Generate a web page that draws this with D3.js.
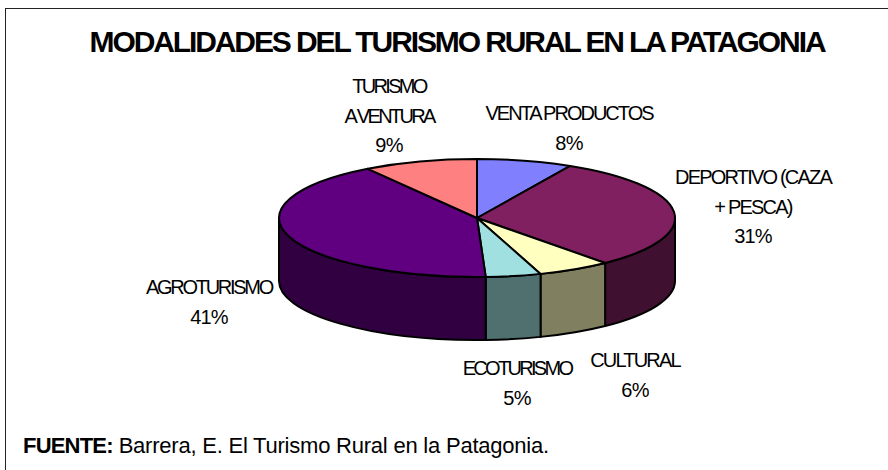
<!DOCTYPE html>
<html><head><meta charset="utf-8">
<script src="https://cdn.jsdelivr.net/npm/d3@7"></script>
<style>html,body{margin:0;padding:0;background:#fff}svg{display:block}text{font-family:"Liberation Sans",Arial,sans-serif;fill:#000}</style>
</head><body><svg id="c" width="888" height="470"></svg>
<script>
const categories = ["VENTA PRODUCTOS","DEPORTIVO (CAZA + PESCA)","CULTURAL","ECOTURISMO","AGROTURISMO","TURISMO AVENTURA"];
const values = [7.8,31.0,6.0,4.5,41.4,9.3];
const percentLabels = ["8%","31%","6%","5%","41%","9%"];
const topColors = ["#8080FF","#802060","#FFFFC0","#A0E0E0","#600080","#FF8080"];
const sideColors = ["#404080","#401030","#808060","#507070","#300040","#804040"];
const labelLines = [["VENTA PRODUCTOS"],["DEPORTIVO (CAZA","+ PESCA)"],["CULTURAL"],["ECOTURISMO"],["AGROTURISMO"],["TURISMO","A VENTURA"]];
const labelAnchors = [[569,120],[753,184],[635,367],[517,375],[209,294],[389,93]];
const labelTracking = [-2,-1.8,-1.8,-2.7,-2.3,-2.7];

const svg = d3.select("#c");
const cx=477, cy=218, rx=198, ry=59, depth=63;
svg.append("rect").attr("x",5.5).attr("y",8.5).attr("width",900).attr("height",500).attr("fill","#fff").attr("stroke","#222");

const pie = d3.pie().sort(null).value(d=>d);
const arcs = pie(values);
const pt=(a,dy=0)=>[cx+rx*Math.sin(a), cy-ry*Math.cos(a)+dy];
const PI=Math.PI;

// side walls: only the front half of the cylinder is visible
const walls = svg.append("g");
arcs.forEach((d,i)=>{
  const a0=Math.max(d.startAngle,PI/2), a1=Math.min(d.endAngle,3*PI/2);
  if(a1<=a0) return;
  const p0=pt(a0),p1=pt(a1),q1=pt(a1,depth),q0=pt(a0,depth);
  walls.append("path")
    .attr("d",`M${p0}A${rx},${ry} 0 0 1 ${p1}L${q1}A${rx},${ry} 0 0 0 ${q0}Z`)
    .attr("fill",sideColors[i]).attr("stroke","#000").attr("stroke-width",2).attr("stroke-linejoin","round");
});
// top face
const arcGen=d3.arc().innerRadius(0).outerRadius(rx);
svg.append("g").attr("transform",`translate(${cx},${cy}) scale(1,${ry/rx})`)
  .selectAll("path").data(arcs).join("path")
  .attr("d",arcGen).attr("fill",(d,i)=>topColors[i])
  .attr("stroke","#000").attr("stroke-width",2).attr("stroke-linejoin","round")
  .attr("vector-effect","non-scaling-stroke");

svg.append("text").attr("x",457).attr("y",52).attr("text-anchor","middle")
  .attr("font-size",30).attr("font-weight","bold").attr("letter-spacing",-2.1)
  .text("MODALIDADES DEL TURISMO RURAL EN LA PATAGONIA");

categories.forEach((c,i)=>{
  const lines=[...labelLines[i],percentLabels[i]];
  const g=svg.append("text").attr("text-anchor","middle").attr("font-size",20);
  lines.forEach((l,k)=>{
    g.append("tspan").attr("x",labelAnchors[i][0]).attr("y",labelAnchors[i][1]+k*29.5)
      .attr("letter-spacing",/%/.test(l)?-0.8:labelTracking[i]).text(l);
  });
});

const src=svg.append("text").attr("x",23).attr("y",453).attr("font-size",22).attr("letter-spacing",-0.22);
src.append("tspan").attr("font-weight","bold").attr("letter-spacing",-0.8).text("FUENTE:");
src.append("tspan").text(" Barrera, E. El Turismo Rural en la Patagonia.");
</script></body></html>
